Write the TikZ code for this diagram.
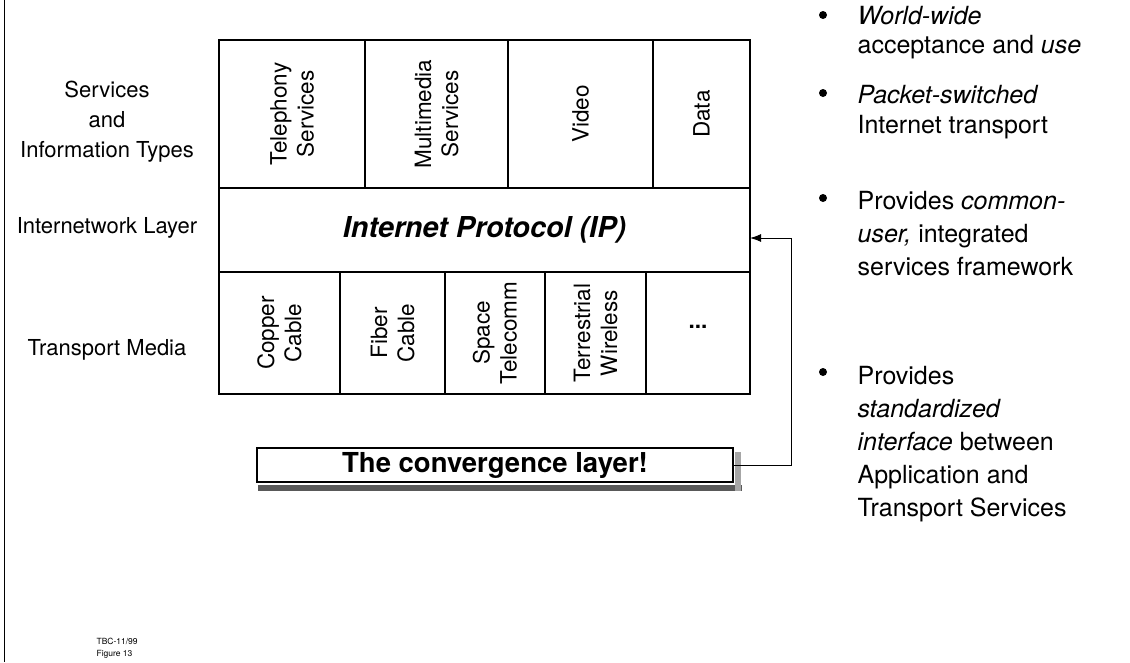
\documentclass[tikz,border=0pt]{standalone}
\usepackage{fontspec}
\setmainfont{TeX Gyre Heros}
\usetikzlibrary{positioning,arrows.meta}

\begin{document}
\begin{tikzpicture}[x=1pt,y=-1pt,line width=1.2pt,
                    cell node/.style={draw,rectangle,inner sep=0pt,outer sep=0pt,align=center,font=\fontsize{22.5}{27}\selectfont},
                    side node/.style={align=center,font=\fontsize{22}{30}\selectfont},
                    point text/.style={anchor=north west,align=left,inner sep=0pt,font=\fontsize{25}{33}\selectfont},
                    bullet node/.style={circle,fill,inner sep=0pt,minimum size=8pt}]

  \useasboundingbox (0,0) rectangle (1130,662);
  \draw[line width=0.8pt] (4,0) -- (4,662);

  % row labels
  \node[side node] (services) at (107,122) {Services\\and\\Information Types};
  \node[side node] (internetwork) at (107,228) {Internetwork Layer};
  \node[side node] (transport) at (107,350) {Transport Media};

  % services row
  \node[cell node,rotate=90,minimum width=148pt,minimum height=146pt] (tel) at (292,114) {Telephony\\Services};
  \node[cell node,rotate=90,minimum width=148pt,minimum height=143pt] (mm) at (436.5,114) {Multimedia\\Services};
  \node[cell node,rotate=90,minimum width=148pt,minimum height=145pt] (video) at (580.5,114) {Video};
  \node[cell node,rotate=90,minimum width=148pt,minimum height=97pt] (data) at (701.5,114) {Data};

  % internetwork row
  \node[cell node,minimum width=531pt,minimum height=84pt,font=\fontsize{28.8}{30}\selectfont\bfseries\itshape] (ip) at (484.5,230) {Internet Protocol (IP)};

  % transport row
  \node[cell node,rotate=90,minimum width=122pt,minimum height=121pt] (copper) at (279.5,333) {Copper\\Cable};
  \node[cell node,rotate=90,minimum width=122pt,minimum height=105pt] (fiber) at (392.5,333) {Fiber\\Cable};
  \node[cell node,rotate=90,minimum width=122pt,minimum height=100pt] (space) at (495,333) {Space\\Telecomm};
  \node[cell node,rotate=90,minimum width=122pt,minimum height=101pt] (terr) at (595.5,333) {Terrestrial\\Wireless};
  \node[cell node,minimum width=104pt,minimum height=122pt] (more) at (698,333) {\raisebox{12pt}{\textbf{...}}};

  % convergence box with its shadow
  \fill[black!65] (258,485) rectangle (742,491);
  \fill[black!35] (735,452) rectangle (741,491);
  \node[cell node,fill=white,minimum width=476pt,minimum height=34pt,font=\fontsize{27.5}{30}\selectfont\bfseries] (conv) at (495,465) {The convergence layer!};

  \coordinate (turn) at (791,238);
  \draw[line width=1pt,-{Latex[length=11pt,width=8pt]}] (conv.east) -| (turn) -- (ip.east |- turn);

  % bullet points
  \node[bullet node] (d1) at (823,15) {};
  \node[bullet node] (d2) at (823,93) {};
  \node[bullet node] (d3) at (823,198) {};
  \node[bullet node] (d4) at (823,372) {};
  \node[point text,font=\fontsize{25}{29}\selectfont] (p1) at (857,6) {\textit{World-wide}\\acceptance and \textit{use}};
  \node[point text,font=\fontsize{25}{30}\selectfont] (p2) at (857,85) {\textit{Packet-switched}\\Internet transport};
  \node[point text] (p3) at (857,191) {Provides \textit{common-}\\\textit{user,} integrated\\services framework};
  \node[point text] (p4) at (857,366) {Provides\\\textit{standardized}\\\textit{interface} between\\Application and\\Transport Services};

  \node[anchor=west,align=left,inner sep=0pt,font=\fontsize{8.5}{12}\selectfont] (tag) at (96,648) {TBC-11/99\\Figure 13};

\end{tikzpicture}
\end{document}
